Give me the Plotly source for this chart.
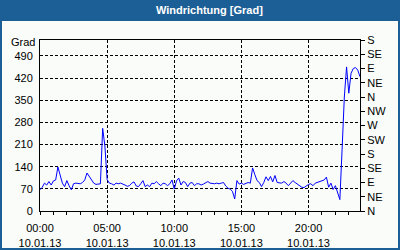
import plotly.graph_objects as go
import pandas as pd

# ---- data (10-minute wind direction values, degrees) ----
start_time = "2013-01-10 00:00"
step = "10min"
direction_deg = [
    67, 75, 88, 82, 93, 82,      # 00h
    95, 98, 139, 109, 88, 77,    # 01h
    96, 80, 67, 86, 88, 87,      # 02h
    86, 90, 98, 120, 109, 100,   # 03h
    88, 84, 86, 86, 261, 205,    # 04h
    99, 88, 86, 82, 88, 86,      # 05h
    88, 86, 82, 78, 80, 88,      # 06h
    92, 79, 77, 86, 96, 77,      # 07h
    82, 77, 88, 86, 93, 86,      # 08h
    80, 88, 86, 80, 86, 98,      # 09h
    69, 95, 104, 82, 93, 90,     # 10h
    77, 88, 90, 80, 86, 86,      # 11h
    82, 85, 88, 93, 88, 87,      # 12h
    86, 88, 86, 88, 90, 79,      # 13h
    72, 69, 62, 38, 96, 85,      # 14h
    88, 84, 86, 90, 88, 136,     # 15h
    115, 96, 90, 77, 90, 108,    # 16h
    96, 109, 92, 112, 90, 88,    # 17h
    88, 93, 88, 80, 90, 96,      # 18h
    90, 84, 80, 75, 74, 80,      # 19h
    84, 86, 80, 88, 90, 93,      # 20h
    95, 98, 107, 75, 88, 68,     # 21h
    80, 55, 36, 195, 360, 455,   # 22h
    372, 435, 450, 453, 445, 424 # 23h
]
left_ticks = [0, 70, 140, 210, 280, 350, 420, 490]
right_ticks = [0, 45, 90, 135, 180, 225, 270, 315, 360, 405, 450, 495, 540]
right_labels = ["N", "NE", "E", "SE", "S", "SW", "W", "NW", "N", "NE", "E", "SE", "S"]
x_tick_times = ["2013-01-10 00:00", "2013-01-10 05:00", "2013-01-10 10:00",
                "2013-01-10 15:00", "2013-01-10 20:00"]
x_tick_labels = ["00:00<br>10.01.13", "05:00<br>10.01.13", "10:00<br>10.01.13",
                 "15:00<br>10.01.13", "20:00<br>10.01.13"]
title_text = "Windrichtung [Grad]"
unit_text = "Grad"

times = pd.date_range(start_time, periods=len(direction_deg), freq=step)

BLUE = "#1c5f96"
BG = "#f9fcf9"
FONT = "Liberation Sans"

fig = go.Figure()
fig.add_trace(go.Scatter(x=times, y=direction_deg, mode="lines",
                         line=dict(color="#0000ff", width=1), yaxis="y",
                         hoverinfo="skip", showlegend=False))
fig.add_trace(go.Scatter(x=times, y=direction_deg, mode="lines",
                         line=dict(color="rgba(0,0,0,0)", width=0), yaxis="y2",
                         hoverinfo="skip", showlegend=False))

W, H = 400, 250
ML, MR, MT, MB = 40, 40, 40, 39
PW, PH = W - ML - MR, H - MT - MB

def px_x(px):
    return (px - ML) / PW

def px_y(py):
    return (H - MB - py) / PH

fig.update_layout(
    width=W, height=H,
    margin=dict(l=ML, r=MR, t=MT, b=MB, pad=0, autoexpand=False),
    paper_bgcolor=BLUE,
    plot_bgcolor=BG,
    font=dict(family=FONT, size=11, color="black"),
    showlegend=False,
    xaxis=dict(
        type="date", automargin=False,
        range=[times[0], times[-1]],
        tickvals=x_tick_times, ticktext=x_tick_labels,
        showgrid=True, gridcolor="black", gridwidth=1, griddash="3px,2px",
        showline=True, linecolor="black", linewidth=1, mirror=True,
        ticks="outside", ticklen=3, tickcolor="black", ticklabelstandoff=4,
        minor=dict(dtick=3600000, ticks="outside", ticklen=3, tickcolor="black", showgrid=False),
        tickfont=dict(family=FONT, size=11, color="black"),
        zeroline=False,
    ),
    yaxis=dict(
        range=[0, 540], tickvals=left_ticks, automargin=False,
        showgrid=True, gridcolor="black", gridwidth=1, griddash="3px,2px",
        showline=True, linecolor="black", linewidth=1,
        ticks="", ticklabelstandoff=4,
        tickfont=dict(family=FONT, size=11, color="black"),
        zeroline=False,
    ),
    yaxis2=dict(
        range=[0, 540], overlaying="y", side="right", automargin=False,
        tickvals=right_ticks, ticktext=right_labels,
        showgrid=False, showline=True, linecolor="black", linewidth=1,
        ticks="outside", ticklen=4, tickcolor="black",
        tickfont=dict(family=FONT, size=11, color="black"),
        zeroline=False,
    ),
    shapes=[
        dict(type="rect", xref="paper", yref="paper", layer="below",
             x0=px_x(2), x1=px_x(398), y0=px_y(248), y1=px_y(21),
             fillcolor=BG, line=dict(width=0)),
    ],
    annotations=[
        dict(text="<b>" + title_text + "</b>", xref="paper", yref="paper",
             x=px_x(209), y=px_y(10), showarrow=False,
             font=dict(family=FONT, size=11, color="white"),
             xanchor="center", yanchor="middle"),
        dict(text=unit_text, xref="paper", yref="paper",
             x=px_x(37), y=px_y(42), showarrow=False,
             font=dict(family=FONT, size=11, color="black"),
             xanchor="right", yanchor="middle"),
    ],
)

fig.write_html("out.html")
